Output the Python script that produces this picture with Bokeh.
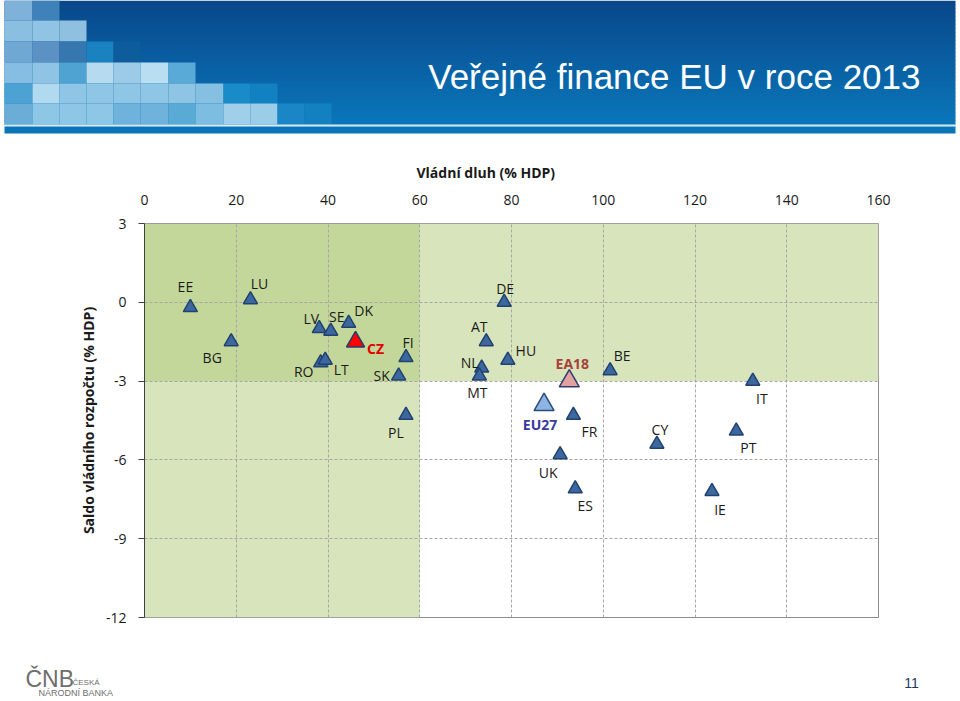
from bokeh.plotting import figure
from bokeh.layouts import column
from bokeh.models import Range1d, FixedTicker, ColumnDataSource, Title
from bokeh.core.properties import value
from bokeh.embed import file_html
from bokeh.resources import INLINE

# ---------------- data ----------------
countries = ["EE", "LU", "BG", "LV", "SE", "DK", "CZ", "FI", "RO", "LT", "SK", "PL",
             "DE", "AT", "HU", "NL", "MT", "BE", "IT", "FR", "CY", "PT", "UK", "ES",
             "IE", "EA18", "EU27"]
debt = [10.0, 23.1, 18.9, 38.1, 40.6, 44.5, 46.0, 57.0, 38.4, 39.4, 55.4, 57.0,
        78.4, 74.5, 79.2, 73.5, 73.0, 101.5, 132.6, 93.5, 111.7, 129.0, 90.6, 93.9,
        123.7, 92.6, 87.1]
balance = [-0.2, 0.1, -1.5, -1.0, -1.1, -0.8, -1.5, -2.1, -2.3, -2.2, -2.8, -4.3,
           0.0, -1.5, -2.2, -2.5, -2.8, -2.6, -3.0, -4.3, -5.4, -4.9, -5.8, -7.1,
           -7.2, -3.0, -3.9]
x_ticks = [0, 20, 40, 60, 80, 100, 120, 140, 160]
y_ticks = [-12, -9, -6, -3, 0, 3]
debt_limit = 60
deficit_limit = -3
x_title = "Vládní dluh (% HDP)"
y_title = "Saldo vládního rozpočtu (% HDP)"
page_title = "Veřejné finance EU v roce 2013"
page_number = "11"

# label placement (screen px offsets from the marker)
label_dx = [-5, 9, -19, -8, 6, 15, 20, 2, -17, 16, -17, -10,
            1, -7, 18, -12, -2, 12, 9, 16, 3, 12, -12, 10, 8, 3, -4]
label_dy = [-21, -16, 16, -10, -15, -13, 7, -15, 9, 9, 0, 17,
            -14, -15, -10, -5, 17, -15, 17, 16, -15, 16, 18, 17, 18, -18, 20]

W = 958
FONT = "Open Sans"
SANS = "Liberation Sans"

# ---------------- header ----------------
H_HEAD = 140
head = figure(width=W, height=H_HEAD, x_range=Range1d(0, W), y_range=Range1d(H_HEAD, 0),
              x_axis_type=None, y_axis_type=None, output_backend="svg",
              toolbar_location=None, min_border=0, frame_align=False)
head.grid.visible = False
head.outline_line_color = None
head.background_fill_color = "white"
head.border_fill_color = "white"

BAN_L, BAN_R, BAN_B = 4, 955, 124
top_c, bot_c = (8, 72, 138), (10, 118, 186)
N = 31
gl, gr, gt, gb, gc = [], [], [], [], []
for i in range(N):
    t = i / (N - 1)
    c = tuple(int(round(a + (b - a) * t)) for a, b in zip(top_c, bot_c))
    gl.append(BAN_L); gr.append(BAN_R)
    gt.append(BAN_B * i / N); gb.append(BAN_B * (i + 1) / N + 0.5)
    gc.append("#%02x%02x%02x" % c)
head.quad(left=gl, right=gr, top=gt, bottom=gb, fill_color=gc, line_color=None)

mosaic = [
    ["#7fb2d8", "#3f82ba"],
    ["#8bbfe2", "#90c3e4", "#8fc0e0"],
    ["#6fa9d3", "#5b92c3", "#3577ae", "#1b82c2", "#0d5c9c"],
    ["#86bde2", "#90c4e4", "#4fa3d3", "#b6dbf0", "#9ccbe8", "#b9ddf1", "#5aaad8"],
    ["#4ca2d2", "#b1d9ef", "#8fc6e5", "#8fc6e5", "#8fc6e5", "#8fc6e5", "#8ec5e5",
     "#85c0e2", "#1a8bc9", "#1281c1"],
    ["#6aaed8", "#8ec6e6", "#8ec6e6", "#8ec6e6", "#6fb2dc", "#6fb2dc", "#5aaad6",
     "#7dbde2", "#a0cfea", "#9bcde9", "#1a86c6", "#1380c0"],
]
col_edges = [4, 32, 59, 86, 113, 140, 168, 195, 223, 250, 277, 304, 331]
row_edges = [0, 20, 41, 62, 83, 103, 124]
ml, mr, mt, mb, mc = [], [], [], [], []
for r, row in enumerate(mosaic):
    for c, colr in enumerate(row):
        ml.append(col_edges[c]); mr.append(col_edges[c + 1])
        mt.append(row_edges[r]); mb.append(row_edges[r + 1])
        mc.append(colr)
head.quad(left=ml, right=mr, top=mt, bottom=mb, fill_color=mc, line_color=None)

head.quad(left=[BAN_L], right=[BAN_R], top=[124], bottom=[126], fill_color="#d6ebf7", line_color=None)
head.quad(left=[BAN_L], right=[BAN_R], top=[126], bottom=[133], fill_color="#0a74b8", line_color=None)

head.text(x=[920], y=[76], text=[page_title], text_align="right", text_baseline="middle",
          text_color="white", text_font=value(SANS), text_font_size="35px")

# ---------------- chart ----------------
H_CHART = 500
X_MIN, X_MAX = x_ticks[0], x_ticks[-1]
Y_MIN, Y_MAX = y_ticks[0], y_ticks[-1]
FRAME_L = 144
p = figure(width=W, height=H_CHART, x_range=Range1d(X_MIN, X_MAX), y_range=Range1d(Y_MIN, Y_MAX),
           x_axis_location="above", output_backend="svg", toolbar_location=None,
           min_border_left=FRAME_L, min_border_right=W - 878, min_border_top=83,
           min_border_bottom=23, frame_align=False, title=None)
p.background_fill_color = "white"
p.border_fill_color = "white"
p.outline_line_color = "#8c8c8c"

p.quad(left=[X_MIN], right=[debt_limit], bottom=[deficit_limit], top=[Y_MAX],
       fill_color="#c4d79b", line_color=None, level="image")
p.quad(left=[debt_limit, X_MIN], right=[X_MAX, debt_limit],
       bottom=[deficit_limit, Y_MIN], top=[Y_MAX, deficit_limit],
       fill_color="#d8e4bc", line_color=None, level="image")

p.xgrid.ticker = FixedTicker(ticks=x_ticks)
p.ygrid.ticker = FixedTicker(ticks=y_ticks)
p.grid.grid_line_color = "#a6a6a6"
p.grid.grid_line_dash = "3 2"
p.grid.grid_line_width = 1

p.xaxis.ticker = FixedTicker(ticks=x_ticks)
p.xaxis.major_tick_out = 0
p.xaxis.major_tick_in = 0
p.xaxis.minor_tick_out = 0
p.xaxis.minor_tick_in = 0
p.xaxis.axis_line_color = None
p.xaxis.major_label_standoff = 19

p.yaxis.ticker = FixedTicker(ticks=y_ticks)
p.yaxis.major_label_overrides = {t: str(t) for t in y_ticks}
p.yaxis.major_tick_out = 6
p.yaxis.major_tick_in = 0
p.yaxis.minor_tick_out = 0
p.yaxis.minor_tick_in = 0
p.yaxis.axis_line_color = "#404040"
p.yaxis.major_tick_line_color = "#404040"
p.yaxis.major_label_standoff = 12
p.yaxis.axis_label = y_title
p.yaxis.axis_label_standoff = 5

for ax in (p.xaxis, p.yaxis):
    ax.major_label_text_font = FONT
    ax.major_label_text_font_size = "14px"
    ax.major_label_text_color = "#1a1a1a"
    ax.axis_label_text_font = FONT
    ax.axis_label_text_font_size = "14px"
    ax.axis_label_text_font_style = "bold"
    ax.axis_label_text_color = "#1a1a1a"

# x-axis title, placed above the tick labels (left-aligned like the original)
p.add_layout(Title(text=x_title, align="left", offset=416 - FRAME_L, standoff=19,
                   text_font=FONT, text_font_size="14px", text_font_style="bold",
                   text_color="#1a1a1a"), "above")

special = {
    "CZ": dict(fill="#ff0000", line="#1f3f6b", size=18, tcol="#e00000", style="bold"),
    "EA18": dict(fill="#e3a2a2", line="#2b3f6b", size=20, tcol="#a8403a", style="bold"),
    "EU27": dict(fill="#8db4e2", line="#2b4a7a", size=20, tcol="#3a3a9c", style="bold"),
}
default = dict(fill="#3c679f", line="#22426e", size=14, tcol="#1a1a1a", style="normal")
sty = [special.get(c, default) for c in countries]

src = ColumnDataSource(dict(
    x=debt, y=balance, name=countries, dx=label_dx, dy=label_dy,
    fill=[s["fill"] for s in sty], line=[s["line"] for s in sty],
    size=[s["size"] for s in sty], tcol=[s["tcol"] for s in sty],
    style=[s["style"] for s in sty],
))
p.scatter(x="x", y="y", source=src, marker="triangle", size="size",
          fill_color="fill", line_color="line", line_width=1.5)
p.text(x="x", y="y", text="name", source=src, x_offset="dx", y_offset="dy",
       text_align="center", text_baseline="middle", text_color="tcol",
       text_font=value(FONT), text_font_size="14px", text_font_style="style")

# ---------------- footer ----------------
H_FOOT = 701 - H_HEAD - H_CHART
foot = figure(width=W, height=H_FOOT, x_range=Range1d(0, W), y_range=Range1d(H_FOOT, 0),
              x_axis_type=None, y_axis_type=None, output_backend="svg",
              toolbar_location=None, min_border=0, frame_align=False)
foot.grid.visible = False
foot.outline_line_color = None
foot.background_fill_color = "white"
foot.border_fill_color = "white"
foot.text(x=[25], y=[38], text=["ČNB"], text_align="left", text_baseline="middle",
          text_color="#6e6e6e", text_font=value(SANS), text_font_size="23px")
foot.text(x=[72], y=[42], text=["ČESKÁ"], text_align="left", text_baseline="middle",
          text_color="#6e6e6e", text_font=value(SANS), text_font_size="8px")
foot.text(x=[38], y=[52], text=["NÁRODNÍ BANKA"], text_align="left", text_baseline="middle",
          text_color="#6e6e6e", text_font=value(SANS), text_font_size="9px")
foot.text(x=[911], y=[42], text=[page_number], text_align="center", text_baseline="middle",
          text_color="#1f3864", text_font=value(SANS), text_font_size="14px")

layout = column(head, p, foot, spacing=0)
open("out.html", "w").write(file_html(layout, INLINE))
